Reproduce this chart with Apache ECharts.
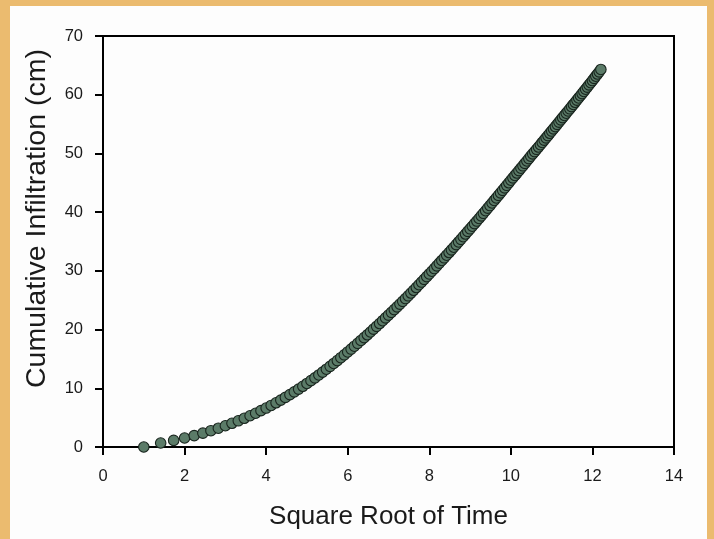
<!DOCTYPE html>
<html>
<head>
<meta charset="utf-8">
<script src="https://cdn.jsdelivr.net/npm/echarts@6/dist/echarts.min.js"></script>
<style>
html,body{margin:0;padding:0;background:#fdfdfd;}
#c{width:714px;height:539px;}
</style>
</head>
<body>
<div id="c"></div>
<script>
// Square root of time (x) values
var sqrtTime = [1.000,1.414,1.732,2.000,2.236,2.449,2.646,2.828,3.000,3.162,3.317,3.464,3.606,3.742,3.873,4.000,4.123,4.243,4.359,4.472,4.583,4.690,4.796,4.899,5.000,5.099,5.196,5.292,5.385,5.477,5.568,5.657,5.745,5.831,5.916,6.000,6.083,6.164,6.245,6.325,6.403,6.481,6.557,6.633,6.708,6.782,6.856,6.928,7.000,7.071,7.141,7.211,7.280,7.348,7.416,7.483,7.550,7.616,7.681,7.746,7.810,7.874,7.937,8.000,8.062,8.124,8.185,8.246,8.307,8.367,8.426,8.485,8.544,8.602,8.660,8.718,8.775,8.832,8.888,8.944,9.000,9.055,9.110,9.165,9.220,9.274,9.327,9.381,9.434,9.487,9.539,9.592,9.644,9.695,9.747,9.798,9.849,9.899,9.950,10.000,10.050,10.100,10.149,10.198,10.247,10.296,10.344,10.392,10.440,10.488,10.536,10.583,10.630,10.677,10.724,10.770,10.817,10.863,10.909,10.954,11.000,11.045,11.091,11.136,11.180,11.225,11.269,11.314,11.358,11.402,11.446,11.489,11.533,11.576,11.619,11.662,11.705,11.747,11.790,11.832,11.874,11.916,11.958,12.000,12.042,12.083,12.124,12.166,12.207];
// Cumulative infiltration (cm)
var infiltration = [0.00,0.68,1.12,1.53,1.94,2.36,2.78,3.20,3.62,4.04,4.46,4.89,5.32,5.75,6.19,6.63,7.08,7.53,7.99,8.45,8.92,9.39,9.86,10.34,10.82,11.30,11.78,12.27,12.76,13.25,13.74,14.23,14.72,15.21,15.70,16.19,16.68,17.17,17.66,18.15,18.63,19.11,19.59,20.07,20.55,21.03,21.51,21.99,22.46,22.93,23.40,23.87,24.34,24.81,25.28,25.75,26.22,26.69,27.16,27.63,28.09,28.55,29.01,29.47,29.93,30.39,30.85,31.31,31.77,32.22,32.67,33.12,33.57,34.02,34.47,34.92,35.37,35.82,36.27,36.72,37.16,37.60,38.04,38.48,38.92,39.36,39.80,40.24,40.68,41.12,41.56,41.99,42.42,42.85,43.28,43.71,44.14,44.57,45.00,45.43,45.84,46.25,46.66,47.07,47.48,47.89,48.30,48.71,49.12,49.53,49.92,50.31,50.70,51.09,51.48,51.87,52.26,52.65,53.04,53.43,53.81,54.19,54.57,54.95,55.33,55.71,56.09,56.47,56.85,57.23,57.60,57.97,58.34,58.71,59.08,59.45,59.82,60.19,60.56,60.93,61.30,61.67,62.04,62.41,62.78,63.15,63.52,63.89,64.30];

var xTitle = 'Square Root of Time';
var yTitle = 'Cumulative Infiltration (cm)';

var pts = sqrtTime.map(function(x, i){ return [x, infiltration[i]]; });

var chart = echarts.init(document.getElementById('c'));
var font = 'Liberation Sans, Arial, sans-serif';
chart.setOption({
  animation: false,
  backgroundColor: '#fdfdfd',
  graphic: [
    {type:'rect', shape:{x:0,y:0,width:714,height:6}, style:{fill:'#EBBB6F'}, z:100},
    {type:'rect', shape:{x:0,y:0,width:10,height:539}, style:{fill:'#EBBB6F'}, z:100},
    {type:'rect', shape:{x:707,y:0,width:7,height:539}, style:{fill:'#EBBB6F'}, z:100}
  ],
  grid: {left:103, right:40, top:36, bottom:92, show:true, borderColor:'#000', borderWidth:2, backgroundColor:'transparent'},
  xAxis: {
    type:'value', min:0, max:14, interval:2,
    name: xTitle, nameLocation:'middle', nameGap:57,
    nameTextStyle:{fontFamily:font, fontSize:26, color:'#1a1a1a'},
    axisLine:{show:true, onZero:false, lineStyle:{color:'#000', width:2}},
    axisTick:{show:true, inside:false, length:8, lineStyle:{color:'#000', width:2}},
    axisLabel:{fontFamily:font, fontSize:16.5, color:'#1a1a1a', margin:21},
    splitLine:{show:false}
  },
  yAxis: {
    type:'value', min:0, max:70, interval:10,
    name: yTitle, nameLocation:'middle', nameGap:51, nameRotate:90,
    nameTextStyle:{fontFamily:font, fontSize:28.5, color:'#1a1a1a', padding:[0,0,0,46]},
    axisLine:{show:true, onZero:false, lineStyle:{color:'#000', width:2}},
    axisTick:{show:true, inside:false, length:8, lineStyle:{color:'#000', width:2}},
    axisLabel:{fontFamily:font, fontSize:16.5, color:'#1a1a1a', margin:20},
    splitLine:{show:false}
  },
  series: [{
    type:'scatter',
    data: pts,
    symbol:'circle',
    symbolSize:10.5,
    itemStyle:{color:'#5b7b68', borderColor:'#18241d', borderWidth:1.1, opacity:1}
  }]
});
</script>
</body>
</html>
